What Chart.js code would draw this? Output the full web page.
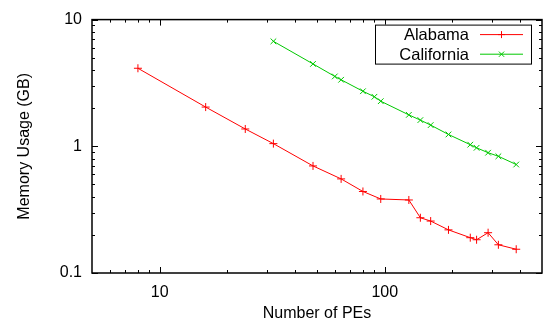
<!DOCTYPE html>
<html>
<head>
<meta charset="utf-8">
<script src="https://cdn.jsdelivr.net/npm/chart.js@4.4.1/dist/chart.umd.min.js"></script>
<style>
html,body{margin:0;padding:0;background:#fff;}
#wrap{width:547px;height:333px;}
</style>
</head>
<body>
<div id="wrap"><canvas id="c" width="547" height="333"></canvas></div>
<script>
// ---- data ----
const alabamaPEs = [8, 16, 24, 32, 48, 64, 80, 96, 128, 144, 160, 192, 240, 256, 288, 320, 384];
const alabamaMem = [4.13, 2.04, 1.37, 1.05, 0.70, 0.553, 0.44, 0.384, 0.377, 0.273, 0.257, 0.219, 0.190, 0.183, 0.208, 0.167, 0.154];
const californiaPEs = [32, 48, 60, 64, 80, 90, 96, 128, 144, 160, 192, 240, 256, 288, 320, 384];
const californiaMem = [6.74, 4.47, 3.56, 3.35, 2.72, 2.46, 2.27, 1.77, 1.61, 1.47, 1.24, 1.03, 0.973, 0.89, 0.834, 0.718];
const seriesNames = ['Alabama', 'California'];
const xMajorTicks = [10, 100];
const xMinorTicks = [6, 7, 8, 9, 20, 30, 40, 50, 60, 70, 80, 90, 200, 300, 400];
const yMajorTicks = [0.1, 1, 10];
const yMinorTicks = [0.2, 0.3, 0.4, 0.5, 0.6, 0.7, 0.8, 0.9, 2, 3, 4, 5, 6, 7, 8, 9];
const xTitle = 'Number of PEs';
const yTitle = 'Memory Usage (GB)';

const RED = '#ff0000';
const GREEN = '#00c800';

Chart.defaults.font.family = '"Liberation Sans", Arial, Helvetica, sans-serif';
Chart.defaults.font.size = 16;
Chart.defaults.color = '#000';

function pts(xs, ys){ return xs.map((x,i)=>({x:x, y:ys[i]})); }

const frameTicks = {
  id: 'frameTicks',
  afterDraw(chart){
    const ctx = chart.ctx, a = chart.chartArea;
    const xs = chart.scales.x, ys = chart.scales.y;
    ctx.save();
    ctx.strokeStyle = '#000';
    ctx.lineWidth = 1;
    const majL = 6, minL = 3;
    function xt(v, L){
      const p = Math.round(xs.getPixelForValue(v)) + 0.5;
      ctx.beginPath();
      ctx.moveTo(p, a.bottom); ctx.lineTo(p, a.bottom - L);
      ctx.moveTo(p, a.top); ctx.lineTo(p, a.top + L);
      ctx.stroke();
    }
    function yt(v, L){
      const p = Math.round(ys.getPixelForValue(v)) + 0.5;
      ctx.beginPath();
      ctx.moveTo(a.left, p); ctx.lineTo(a.left + L, p);
      ctx.moveTo(a.right, p); ctx.lineTo(a.right - L, p);
      ctx.stroke();
    }
    xMajorTicks.forEach(v=>xt(v, majL));
    xMinorTicks.forEach(v=>xt(v, minL));
    yMajorTicks.forEach(v=>yt(v, majL));
    yMinorTicks.forEach(v=>yt(v, minL));
    ctx.lineWidth = 1.5;
    ctx.strokeRect(a.left, a.top, a.right - a.left, a.bottom - a.top);

    // legend box (gnuplot style)
    const bx = a.right - 11, bw = 156;
    const left = bx - bw, top = a.top + 5, h = 39;
    ctx.fillStyle = '#fff';
    ctx.fillRect(left, top, bw, h);
    ctx.lineWidth = 1;
    ctx.strokeRect(left + 0.5, top + 0.5, bw, h);
    ctx.font = '16.5px "Liberation Sans", Arial, sans-serif';
    ctx.textAlign = 'right';
    ctx.textBaseline = 'middle';
    chart.data.datasets.forEach((ds, i)=>{
      const cy = top + 10 + i * 19.6;
      ctx.fillStyle = '#000';
      ctx.fillText(ds.label, left + 94, cy + 1);
      ctx.strokeStyle = ds.borderColor;
      ctx.lineWidth = 1;
      ctx.beginPath();
      ctx.moveTo(left + 105, cy); ctx.lineTo(left + 148, cy);
      ctx.stroke();
      const mx = left + 126.5, r = 3.5;
      ctx.beginPath();
      if (ds.pointStyle === 'cross') {
        ctx.moveTo(mx - r, cy); ctx.lineTo(mx + r, cy);
        ctx.moveTo(mx, cy - r); ctx.lineTo(mx, cy + r);
      } else {
        const d = r * 0.75;
        ctx.moveTo(mx - d, cy - d); ctx.lineTo(mx + d, cy + d);
        ctx.moveTo(mx - d, cy + d); ctx.lineTo(mx + d, cy - d);
      }
      ctx.stroke();
    });
    ctx.restore();
  }
};

new Chart(document.getElementById('c'), {
  type: 'line',
  data: {
    datasets: [
      { label: seriesNames[0], data: pts(alabamaPEs, alabamaMem), borderColor: RED, backgroundColor: RED,
        borderWidth: 1, pointStyle: 'cross', pointRadius: 4, pointBorderWidth: 1, tension: 0, fill: false },
      { label: seriesNames[1], data: pts(californiaPEs, californiaMem), borderColor: GREEN, backgroundColor: GREEN,
        borderWidth: 1, pointStyle: 'crossRot', pointRadius: 4, pointBorderWidth: 1, tension: 0, fill: false }
    ]
  },
  options: {
    responsive: false,
    animation: false,
    devicePixelRatio: 1,
    layout: { padding: { top: 16, right: 2, bottom: 0, left: 0 } },
    plugins: { legend: { display: false }, tooltip: { enabled: false } },
    scales: {
      x: {
        type: 'logarithmic', min: 5, max: 500,
        grid: { display: false, drawTicks: false }, border: { display: false },
        afterBuildTicks: s => { s.ticks = xMajorTicks.map(v=>({value:v})); },
        afterFit: s => { s.height = 60; },
        ticks: { padding: 10, maxRotation: 0, autoSkip: false, callback: v => String(v) },
        title: { display: true, text: xTitle, padding: { top: 4, bottom: 10 } }
      },
      y: {
        type: 'logarithmic', min: 0.1, max: 10,
        grid: { display: false, drawTicks: false }, border: { display: false },
        afterBuildTicks: s => { s.ticks = yMajorTicks.map(v=>({value:v})); },
        afterFit: s => { s.width = 92; },
        ticks: { padding: 10, autoSkip: false, callback: v => String(v) },
        title: { display: true, text: yTitle, padding: { top: 15, bottom: 4 } }
      }
    }
  },
  plugins: [frameTicks]
});
</script>
</body>
</html>
